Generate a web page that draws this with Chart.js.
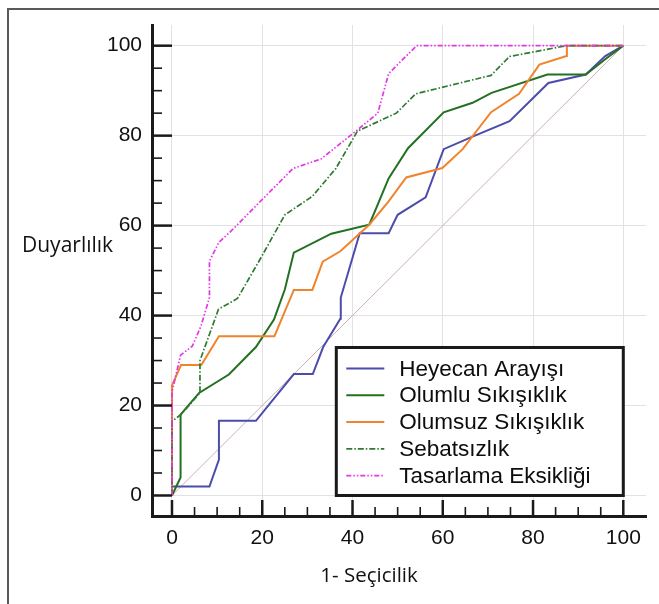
<!DOCTYPE html>
<html>
<head>
<meta charset="utf-8">
<script src="https://cdn.jsdelivr.net/npm/chart.js@4"></script>
<style>
  body { margin: 0; background: #fff; }
  #wrap { position: relative; width: 659px; height: 604px; overflow: hidden; }
  #frame { position: absolute; left: 7px; top: 8px; width: 700px; height: 700px; border: 2px solid #5a5a5a; box-sizing: border-box; }
  #rocChart { position: absolute; left: 0; top: 0; }
</style>
</head>
<body>
<div id="wrap">
  <div id="frame"></div>
  <canvas id="rocChart" width="659" height="604"></canvas>
</div>
<script>
// ROC curves, values
const seriesNames = ['Heyecan Arayışı', 'Olumlu Sıkışıklık', 'Olumsuz Sıkışıklık', 'Sebatsızlık', 'Tasarlama Eksikliği'];
const tickValues = [0, 20, 40, 60, 80, 100];

const heyecanX = [0, 0, 8.3, 10.4, 10.4, 18.6, 27, 31.2, 33.5, 37.3, 37.4, 41.6, 48, 50, 56.2, 60.2, 66.6, 74.8, 83.4, 91.7, 96, 100];
const heyecanY = [0, 2, 2, 8, 16.6, 16.6, 27, 27, 33, 39.3, 44, 58.3, 58.3, 62.4, 66.3, 77, 79.8, 83.2, 91.7, 93.6, 97.7, 100];

const olumluX = [0, 1.9, 1.9, 6, 12.6, 18.6, 22.6, 25, 27, 35.3, 43.7, 45.3, 48, 52.3, 60.2, 66.6, 70.8, 83.2, 91.7, 96, 100];
const olumluY = [0, 4, 18, 22.8, 26.9, 33, 39.1, 45.8, 54, 58.2, 60.2, 64, 70.5, 77.2, 85.2, 87.3, 89.5, 93.6, 93.6, 97, 100];

const olumsuzX = [0, 0, 2, 6.5, 10.4, 22.7, 27, 31.1, 33.4, 37.3, 43.7, 48, 51.9, 59.9, 64.4, 70.7, 76.9, 81.4, 87.4, 87.5, 100];
const olumsuzY = [0, 24.5, 29, 29, 35.4, 35.4, 45.7, 45.7, 52, 54.3, 60.2, 65.4, 70.7, 72.8, 77, 85.2, 89.3, 95.8, 97.7, 100, 100];

const sebatX = [0, 0, 2, 6.2, 6.2, 10.3, 14.5, 19.4, 25, 31.1, 36.3, 41.1, 49.7, 54, 70.7, 74.8, 87.4, 100];
const sebatY = [0, 16.5, 18, 22.8, 30, 41.4, 43.8, 52.3, 62.4, 66.5, 72.7, 81, 85, 89.3, 93.4, 97.6, 100, 100];

const tasarlamaX = [0, 0, 1.9, 4.5, 6.4, 8.3, 8.3, 10.4, 13, 20, 26.8, 33, 41, 45.6, 48, 54.2, 100];
const tasarlamaY = [0, 23, 31.2, 33.2, 37.6, 44, 52.1, 56.3, 58.7, 65.8, 72.7, 74.8, 81.2, 85, 93.8, 100, 100];

const diagX = [0, 100];
const diagY = [0, 100];

function toPoints(xs, ys) {
  return xs.map((x, i) => ({ x: x, y: ys[i] }));
}

// tick marks pointing into the plot, majors every 20, minors every 5
const innerTicks = {
  id: 'innerTicks',
  afterDraw(chart) {
    const ctx = chart.ctx;
    const xs = chart.scales.x, ys = chart.scales.y;
    const left = chart.chartArea.left, bottom = chart.chartArea.bottom;
    ctx.save();
    ctx.strokeStyle = '#1a1a1a';
    for (let v = 0; v <= 100; v += 5) {
      const major = v % 20 === 0;
      ctx.lineWidth = major ? 2.5 : 1.6;
      const py = ys.getPixelForValue(v);
      ctx.beginPath();
      ctx.moveTo(left, py);
      ctx.lineTo(left + (major ? 20 : 10), py);
      ctx.stroke();
      const px = xs.getPixelForValue(v);
      ctx.beginPath();
      ctx.moveTo(px, bottom);
      ctx.lineTo(px, bottom - (major ? 16 : 9));
      ctx.stroke();
    }
    ctx.restore();
  }
};

// axis titles (y title is horizontal in the original)
const axisTitles = {
  id: 'axisTitles',
  afterDraw(chart) {
    const ctx = chart.ctx;
    ctx.save();
    ctx.fillStyle = '#111';
    ctx.font = '21px "Open Sans"';
    ctx.textBaseline = 'middle';
    ctx.textAlign = 'left';
    ctx.fillText('Duyarlılık', 22, 246);
    ctx.font = '20.5px "Open Sans"';
    ctx.textAlign = 'center';
    ctx.fillText('1- Seçicilik', 369, 576);
    ctx.restore();
  }
};

// boxed legend inside the plot, bottom right
const boxLegend = {
  id: 'boxLegend',
  afterDatasetsDraw(chart) {
    const ctx = chart.ctx;
    const xs = chart.scales.x, ys = chart.scales.y;
    const right = xs.getPixelForValue(100), bottom = ys.getPixelForValue(0);
    const w = 287, h = 148;
    const left = right - w, top = bottom - h;
    ctx.save();
    ctx.fillStyle = '#fff';
    ctx.fillRect(left, top, w, h);
    ctx.lineWidth = 3;
    ctx.strokeStyle = '#1a1a1a';
    ctx.strokeRect(left, top, w, h);
    ctx.font = '22.5px "Liberation Sans", Arial';
    ctx.textBaseline = 'middle';
    ctx.textAlign = 'left';
    const items = chart.data.datasets.filter(d => d.inLegend);
    items.forEach((d, i) => {
      const y = top + 21 + i * 26.8;
      ctx.strokeStyle = d.borderColor;
      ctx.lineWidth = d.borderWidth;
      ctx.setLineDash(d.borderDash || []);
      ctx.beginPath();
      ctx.moveTo(left + 10, y);
      ctx.lineTo(left + 48, y);
      ctx.stroke();
      ctx.setLineDash([]);
      ctx.fillStyle = '#0d0d0d';
      ctx.fillText(d.label, left + 63, y + 1);
    });
    ctx.restore();
  }
};

const ctx = document.getElementById('rocChart').getContext('2d');

new Chart(ctx, {
  type: 'line',
  data: {
    datasets: [
      { label: seriesNames[0], data: toPoints(heyecanX, heyecanY), borderColor: '#4c4cac', borderWidth: 2, order: 5, inLegend: true },
      { label: seriesNames[1], data: toPoints(olumluX, olumluY), borderColor: '#237023', borderWidth: 2, order: 4, inLegend: true },
      { label: seriesNames[2], data: toPoints(olumsuzX, olumsuzY), borderColor: '#f0842c', borderWidth: 2, order: 3, inLegend: true },
      { label: seriesNames[3], data: toPoints(sebatX, sebatY), borderColor: '#2e7a30', borderWidth: 1.7, borderDash: [6, 2, 1.5, 2], order: 2, inLegend: true },
      { label: seriesNames[4], data: toPoints(tasarlamaX, tasarlamaY), borderColor: '#e436e4', borderWidth: 1.7, borderDash: [5, 2, 1.5, 2, 1.5, 2], order: 1, inLegend: true },
      { label: 'diag', data: toPoints(diagX, diagY), borderColor: '#cdb0b0', borderWidth: 1, order: 6, inLegend: false }
    ]
  },
  options: {
    responsive: false,
    animation: false,
    events: [],
    elements: {
      point: { radius: 0 },
      line: { tension: 0, fill: false }
    },
    layout: { padding: { top: 25, right: 13, left: 0, bottom: 0 } },
    plugins: {
      legend: { display: false },
      tooltip: { enabled: false },
      title: { display: false }
    },
    scales: {
      x: {
        type: 'linear',
        min: -4.43,
        max: 105.03,
        afterBuildTicks: (scale) => { scale.ticks = tickValues.map(v => ({ value: v })); },
        afterFit: (scale) => { scale.height = 88; },
        grid: { color: '#e2e2e2', lineWidth: 1, drawTicks: false },
        border: { display: true, color: '#1a1a1a', width: 3 },
        ticks: { color: '#111', font: { family: '"Liberation Sans", Arial', size: 21 }, padding: 10, maxRotation: 0 }
      },
      y: {
        type: 'linear',
        min: -4.56,
        max: 104.6,
        afterBuildTicks: (scale) => { scale.ticks = tickValues.map(v => ({ value: v })); },
        afterFit: (scale) => { scale.width = 152; },
        grid: { color: '#e2e2e2', lineWidth: 1, drawTicks: false },
        border: { display: true, color: '#1a1a1a', width: 3 },
        ticks: { color: '#111', font: { family: '"Liberation Sans", Arial', size: 21 }, padding: 10 }
      }
    }
  },
  plugins: [innerTicks, axisTitles, boxLegend]
});
</script>
</body>
</html>
